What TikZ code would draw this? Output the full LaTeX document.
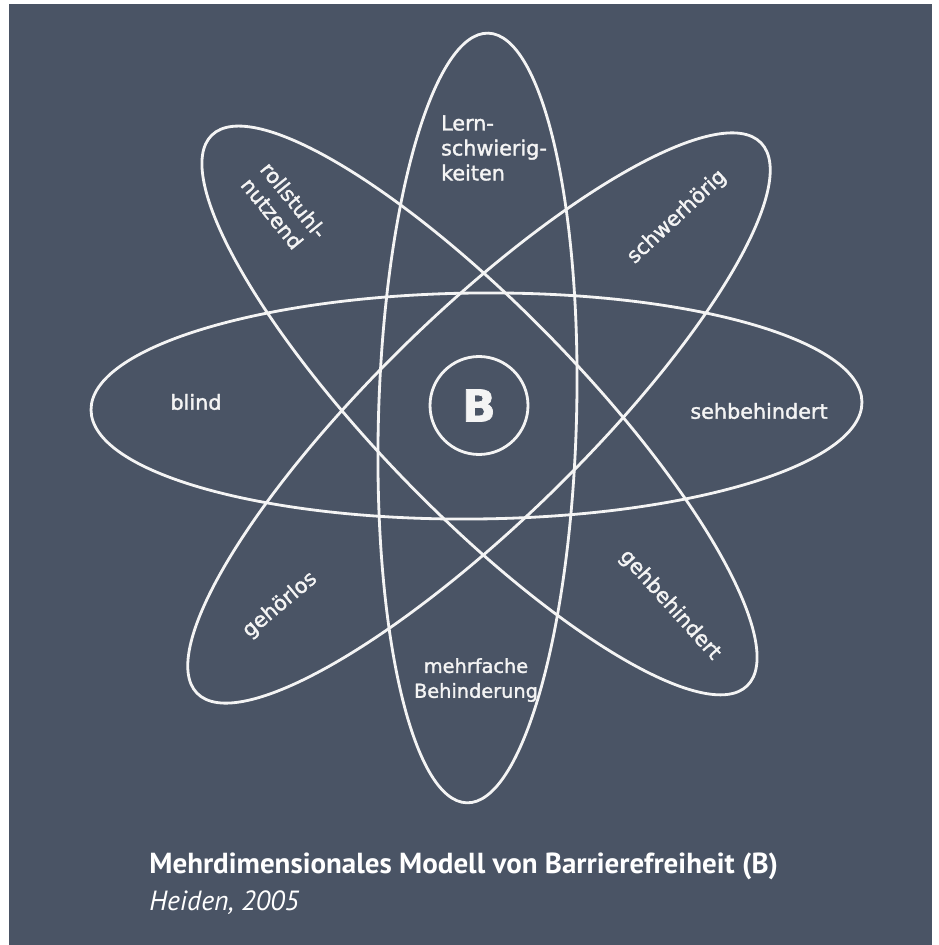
\documentclass[tikz,border=0pt]{standalone}
\usepackage{fontspec}
\setmainfont{PT Sans}
\newfontfamily\labelfont[FakeBold=1.6]{DejaVu Sans}
\usepackage{xcolor}
\usetikzlibrary{positioning}

\definecolor{slate}{RGB}{74,84,101}
\definecolor{chalk}{RGB}{244,244,244}

\begin{document}
\begin{tikzpicture}[x=0.02cm,y=0.02cm,
    orbit/.style={draw=chalk,line width=1.6pt},
    lbl/.style={text=chalk,font=\labelfont\fontsize{11.8}{14.2}\selectfont,inner sep=0pt},
    core/.style={circle,draw=chalk,line width=1.6pt,minimum size=1.96cm,inner sep=0pt,
      text=chalk,font=\labelfont\bfseries\fontsize{25}{25}\selectfont},
    caption/.style={text=white,anchor=base west,inner sep=0pt}
  ]
    % page and panel
    \fill[white] (0,0) rectangle (938,-945);
    \fill[slate] (9,-4) rectangle (932,-945);
    \useasboundingbox (0,0) rectangle (938,-945);

    % centres of the four orbits
    \coordinate (horiz) at (476.5,-406);
    \coordinate (vert) at (477.5,-418);
    \coordinate (diagA) at (479.5,-410.5);
    \coordinate (diagB) at (479,-418);

    \draw[orbit,rotate around={0.6:(horiz)}] (horiz) ellipse [x radius=385.5,y radius=113];
    \draw[orbit,rotate around={-1.6:(vert)}] (vert) ellipse [x radius=99,y radius=385];
    \draw[orbit,rotate around={-45.8:(diagA)}] (diagA) ellipse [x radius=384,y radius=102];
    \draw[orbit,rotate around={44.3:(diagB)}] (diagB) ellipse [x radius=394,y radius=104];

    \node[core] (barrier) at (479,-405.5) {B};

    \node[lbl,align=left] (lern) at (494,-148) {Lern-\\schwierig-\\keiten};
    \node[lbl,align=left,rotate=-51] (rolli) at (284,-208) {rollstuhl-\\nutzend};
    \node[lbl,rotate=43] (schwer) at (677,-217) {schwerhörig};
    \node[lbl] (blind) at (196,-402) {blind};
    \node[lbl] (seh) at (759,-411) {sehbehindert};
    \node[lbl,rotate=40] (gehoer) at (280,-605) {gehörlos};
    \node[lbl,align=center,font=\labelfont\fontsize{11}{14.2}\selectfont] (mehr) at (476,-680)
      {mehrfache\\Behinderung};
    \node[lbl,rotate=-48] (geh) at (670,-605) {gehbehindert};

    \node[caption,font=\bfseries\fontsize{16.5}{20}\selectfont] (title) at (149,-873)
      {Mehrdimensionales Modell von Barrierefreiheit (B)};
    \node[caption,font=\itshape\fontsize{15.8}{20}\selectfont] (source) at (149,-910)
      {Heiden, 2005};
\end{tikzpicture}
\end{document}
